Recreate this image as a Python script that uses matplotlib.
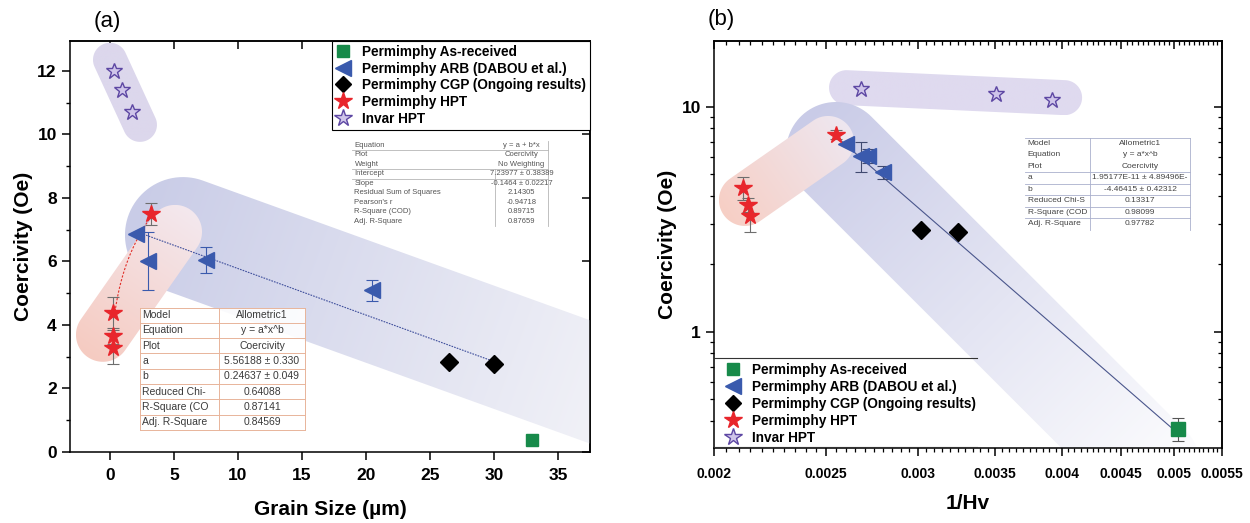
import numpy as np
import matplotlib
matplotlib.use("Agg")
import matplotlib.pyplot as plt
from matplotlib.path import Path
from matplotlib.lines import Line2D
from matplotlib.patches import Rectangle
from matplotlib.colors import to_rgba
from matplotlib.transforms import IdentityTransform
from matplotlib.ticker import (FixedLocator, MultipleLocator, NullFormatter,
                               FuncFormatter, LogLocator)

plt.rcParams['font.family'] = ['Liberation Sans', 'DejaVu Sans']

# ---------------- data ----------------
# coercivity (Oe) per sample group
asrec_hc = [0.37]
arb_hc = [6.85, 6.02, 6.05, 5.10]
arb_err = [0.0, 0.92, 0.42, 0.33]
cgp_hc = [2.82, 2.77]
hpt_hc = [4.37, 3.66, 3.26, 7.50]
hpt_err = [0.52, 0.25, 0.50, 0.35]
invar_hc = [12.0, 11.4, 10.7]

# grain size (um)
asrec_d = [33.0]
arb_d = [2.0, 3.0, 7.5, 20.5]
cgp_d = [26.5, 30.0]
hpt_d = [0.2, 0.2, 0.2, 3.2]
invar_d = [0.3, 0.9, 1.75]

# inverse hardness 1/Hv
asrec_ihv = [0.00504]
asrec_err_b = [0.045]
arb_ihv = [0.00260, 0.00268, 0.00272, 0.00280]
cgp_ihv = [0.00302, 0.00325]
hpt_ihv = [0.00212, 0.00214, 0.00215, 0.00255]
invar_ihv = [0.00268, 0.00351, 0.00392]

# fitted models
lin_a, lin_b = 7.23977, -0.1464          # y = a + b*x
allo_a, allo_b = 5.56188, 0.24637        # y = a*x^b  (grain size)
allo2_a, allo2_b = 1.95177e-11, -4.46415  # y = a*x^b  (1/Hv)

legend_labels = ['Permimphy As-received', 'Permimphy ARB (DABOU et al.)',
                 'Permimphy CGP (Ongoing results)', 'Permimphy HPT', 'Invar HPT']

lin_table = [('Equation', 'y = a + b*x'), ('Plot', 'Coercivity'),
             ('Weight', 'No Weighting'), ('Intercept', '7.23977 ± 0.38389'),
             ('Slope', '-0.1464 ± 0.02217'), ('Residual Sum of Squares', '2.14305'),
             ("Pearson's r", '-0.94718'), ('R-Square (COD)', '0.89715'),
             ('Adj. R-Square', '0.87659')]
allo_table = [('Model', 'Allometric1'), ('Equation', 'y = a*x^b'),
              ('Plot', 'Coercivity'), ('a', '5.56188 ± 0.330'),
              ('b', '0.24637 ± 0.049'), ('Reduced Chi-', '0.64088'),
              ('R-Square (CO', '0.87141'), ('Adj. R-Square', '0.84569')]
allo2_table = [('Model', 'Allometric1'), ('Equation', 'y = a*x^b'),
               ('Plot', 'Coercivity'), ('a', '1.95177E-11 ± 4.89496E-'),
               ('b', '-4.46415 ± 0.42312'), ('Reduced Chi-S', '0.13317'),
               ('R-Square (COD', '0.98099'), ('Adj. R-Square', '0.97782')]

# ---------------- styles ----------------
C_GREEN = '#178a4a'
C_BLUE = '#3a5aad'
C_RED = '#e8262c'
C_PURP_E = '#5d47a3'
C_PURP_F = '#cfc5ea'

W, H = 1250, 523
fig = plt.figure(figsize=(W / 100, H / 100), dpi=100)


def fx(px):
    return px / W


def fy(py):
    return 1 - py / H


axA = fig.add_axes([fx(70), fy(452), fx(590) - fx(70), fy(40.7) - fy(452)])
axB = fig.add_axes([fx(714), fy(448), fx(1222) - fx(714), fy(40.7) - fy(448)])

axA.set_xlim(-3.125, 37.5)
axA.set_ylim(0, 12.95)
axB.set_xscale('log')
axB.set_yscale('log')
axB.set_xlim(0.002, 0.0055)
axB.set_ylim(0.304, 19.65)
for ax in (axA, axB):
    ax.set_autoscale_on(False)


def band(ax, p0, p1, r, c_start, c_end, z=0.3):
    """Rounded translucent guide band between two data points, radius in pixels."""
    P0 = ax.transData.transform(p0)
    P1 = ax.transData.transform(p1)
    d = P1 - P0
    L = np.hypot(*d)
    u = d / L
    ang = np.arctan2(u[1], u[0])
    a1 = np.linspace(ang - np.pi / 2, ang + np.pi / 2, 48)
    a0 = a1 + np.pi
    verts = np.vstack([P1 + r * np.column_stack([np.cos(a1), np.sin(a1)]),
                       P0 + r * np.column_stack([np.cos(a0), np.sin(a0)])])
    verts = np.vstack([verts, verts[:1]])
    path = Path(verts, closed=True)
    bb = ax.bbox
    x0 = max(verts[:, 0].min(), bb.x0)
    x1 = min(verts[:, 0].max(), bb.x1)
    y0 = max(verts[:, 1].min(), bb.y0)
    y1 = min(verts[:, 1].max(), bb.y1)
    nx = max(int(x1 - x0), 2)
    ny = max(int(y1 - y0), 2)
    X, Y = np.meshgrid(np.linspace(x0, x1, nx), np.linspace(y0, y1, ny))
    t = ((X - P0[0]) * u[0] + (Y - P0[1]) * u[1] + r) / (L + 2 * r)
    t = np.clip(t, 0, 1)[..., None]
    c0 = np.array(to_rgba(c_start))
    c1 = np.array(to_rgba(c_end))
    img = c0 * (1 - t) + c1 * t
    im = ax.imshow(img, extent=(x0, x1, y0, y1), origin='lower',
                   transform=IdentityTransform(), interpolation='bilinear',
                   aspect='auto', zorder=z)
    im.set_clip_path(path, IdentityTransform())


# ---------------- panel (a) ----------------
band(axA, (0.0, 12.35), (2.34, 10.3), 17, '#dcd7ec', '#dcd7ec')
band(axA, (5.7, 6.83), (41.4, 1.64), 58, '#c9cce7', '#f8f8fa')
band(axA, (-0.55, 3.69), (5.08, 6.93), 27, '#f6cbc1', '#f3e8ee', z=0.35)

xs = np.linspace(min(arb_d), max(cgp_d), 100)
axA.plot(xs, lin_a + lin_b * xs, color='#3f4f9c', lw=0.8, ls=(0, (1.5, 1.0)), zorder=2)
xr = np.linspace(0.35, max(hpt_d), 100)
axA.plot(xr, allo_a * xr ** allo_b, color='#e0302a', lw=0.8, ls=(0, (2.0, 1.5)), zorder=2)

axA.errorbar(hpt_d, hpt_hc, yerr=hpt_err, fmt='none', ecolor='#6e6e6e',
             elinewidth=0.8, capsize=4, capthick=0.8, zorder=2.5)
axA.errorbar(arb_d, arb_hc, yerr=arb_err, fmt='none', ecolor=C_BLUE,
             elinewidth=0.8, capsize=4, capthick=0.8, zorder=2.5)

axA.plot(asrec_d, asrec_hc, 's', color=C_GREEN, ms=8, zorder=3)
axA.plot(arb_d, arb_hc, '<', color=C_BLUE, ms=12, zorder=3)
axA.plot(cgp_d, cgp_hc, 'D', color='black', ms=9, zorder=3)
axA.plot(hpt_d, hpt_hc, '*', color=C_RED, ms=13, zorder=3)
axA.plot(invar_d, invar_hc, '*', mfc=C_PURP_F, mec=C_PURP_E, mew=1.0, ms=12, zorder=3)

axA.set_xticks(np.arange(0, 36, 5))
axA.set_yticks(np.arange(0, 13, 2))
axA.yaxis.set_minor_locator(MultipleLocator(1))
axA.tick_params(axis='both', which='major', direction='out', length=6,
                width=1.1, labelsize=12.5)
axA.tick_params(axis='x', which='major', pad=5.5)
axA.tick_params(axis='y', which='minor', direction='out', length=3, width=1.0)
for lab in axA.get_xticklabels() + axA.get_yticklabels():
    lab.set_fontweight('bold')
secA_x = axA.secondary_xaxis('top')
secA_x.set_xticks(np.arange(0, 36, 5))
secA_x.tick_params(direction='in', length=6, width=1.1, labeltop=False)
secA_y = axA.secondary_yaxis('right')
secA_y.set_yticks(np.arange(0, 13, 2))
secA_y.tick_params(direction='in', length=6, width=1.1, labelright=False)

axA.set_xlabel('Grain Size (µm)', fontsize=15, fontweight='bold', labelpad=12)
axA.set_ylabel('Coercivity (Oe)', fontsize=15, fontweight='bold', labelpad=3)
for sp in list(axA.spines.values()) + list(secA_x.spines.values()) + list(secA_y.spines.values()):
    sp.set_linewidth(1.1)

# ---------------- panel (b) ----------------
band(axB, (0.002604, 12.15), (0.004020, 10.97), 17.5, '#dfdaef', '#dfdaef')
band(axB, (0.00255, 6.29), (0.004767, 0.253), 50, '#c9cbe7', '#ffffff')
band(axB, (0.002127, 3.85), (0.00251, 6.97), 26, '#f7cfc5', '#eee7f0', z=0.35)

xb = np.linspace(max(hpt_ihv), max(asrec_ihv), 100)
axB.plot(xb, allo2_a * xb ** allo2_b, color='#4a568c', lw=0.8, zorder=2)

axB.errorbar(hpt_ihv, hpt_hc, yerr=hpt_err, fmt='none', ecolor='#6e6e6e',
             elinewidth=0.8, capsize=4, capthick=0.8, zorder=2.5)
axB.errorbar(arb_ihv, arb_hc, yerr=arb_err, fmt='none', ecolor='#404a70',
             elinewidth=0.8, capsize=4, capthick=0.8, zorder=2.5)
axB.errorbar(asrec_ihv, asrec_hc, yerr=asrec_err_b, fmt='none', ecolor='#555555',
             elinewidth=0.8, capsize=4, capthick=0.8, zorder=2.5)

axB.plot(asrec_ihv, asrec_hc, 's', color=C_GREEN, ms=10, zorder=3)
axB.plot(arb_ihv, arb_hc, '<', color=C_BLUE, ms=12, zorder=3)
axB.plot(cgp_ihv, cgp_hc, 'D', color='black', ms=9, zorder=3)
axB.plot(hpt_ihv, hpt_hc, '*', color=C_RED, ms=13, zorder=3)
axB.plot(invar_ihv, invar_hc, '*', mfc=C_PURP_F, mec=C_PURP_E, mew=1.0, ms=12, zorder=3)

xmaj = [0.002, 0.0025, 0.003, 0.0035, 0.004, 0.0045, 0.005, 0.0055]
gfmt = FuncFormatter(lambda v, p: '%g' % v)
axB.xaxis.set_major_locator(FixedLocator(xmaj))
axB.xaxis.set_major_formatter(gfmt)
axB.xaxis.set_minor_locator(MultipleLocator(0.00005))
axB.xaxis.set_minor_formatter(NullFormatter())
axB.yaxis.set_major_locator(LogLocator(base=10))
axB.yaxis.set_major_formatter(gfmt)
axB.yaxis.set_minor_locator(LogLocator(base=10, subs=np.arange(2, 10)))
axB.yaxis.set_minor_formatter(NullFormatter())
axB.tick_params(axis='both', which='major', direction='out', length=6, width=1.1)
axB.tick_params(axis='both', which='minor', direction='out', length=3, width=0.9)
axB.tick_params(axis='x', labelsize=10, pad=8)
axB.tick_params(axis='y', labelsize=12.5)
for lab in axB.get_xticklabels() + axB.get_yticklabels():
    lab.set_fontweight('bold')

secB_x = axB.secondary_xaxis('top')
secB_x.xaxis.set_major_locator(FixedLocator(xmaj))
secB_x.xaxis.set_minor_locator(MultipleLocator(0.00005))
secB_x.xaxis.set_major_formatter(NullFormatter())
secB_x.xaxis.set_minor_formatter(NullFormatter())
secB_x.tick_params(which='major', direction='in', length=6, width=1.1)
secB_x.tick_params(which='minor', direction='in', length=3, width=0.9)
secB_y = axB.secondary_yaxis('right')
secB_y.yaxis.set_major_locator(LogLocator(base=10))
secB_y.yaxis.set_minor_locator(LogLocator(base=10, subs=np.arange(2, 10)))
secB_y.yaxis.set_major_formatter(NullFormatter())
secB_y.yaxis.set_minor_formatter(NullFormatter())
secB_y.tick_params(which='major', direction='in', length=6, width=1.1)
secB_y.tick_params(which='minor', direction='in', length=3, width=0.9)

axB.set_xlabel('1/Hv', fontsize=15, fontweight='bold', labelpad=9)
axB.set_ylabel('Coercivity (Oe)', fontsize=15, fontweight='bold', labelpad=3)
for sp in list(axB.spines.values()) + list(secB_x.spines.values()) + list(secB_y.spines.values()):
    sp.set_linewidth(1.1)

# ---------------- legends ----------------
def handles():
    return [Line2D([], [], ls='none', marker='s', color=C_GREEN, ms=9),
            Line2D([], [], ls='none', marker='<', color=C_BLUE, ms=12),
            Line2D([], [], ls='none', marker='D', color='black', ms=8.5),
            Line2D([], [], ls='none', marker='*', color=C_RED, ms=13),
            Line2D([], [], ls='none', marker='*', mfc=C_PURP_F, mec=C_PURP_E, mew=1.0, ms=13)]


legA = axA.legend(handles(), legend_labels, loc='upper right', borderaxespad=0,
                  frameon=True, fancybox=False, edgecolor='black', framealpha=1,
                  prop=dict(weight='bold', size=9.8), labelspacing=0.2,
                  handlelength=1.0, handletextpad=0.9, borderpad=0.3)
legA.get_frame().set_linewidth(0.8)
legA.set_zorder(5)

legB = axB.legend(handles(), legend_labels, loc='upper left',
                  bbox_to_anchor=(fx(722), fy(359)), bbox_transform=fig.transFigure,
                  borderaxespad=0, frameon=False, prop=dict(weight='bold', size=9.8),
                  labelspacing=0.22, handlelength=1.0, handletextpad=0.9, borderpad=0.3)
legB.set_zorder(5)
for yline in (358, 446.5):
    fig.add_artist(Line2D([fx(714), fx(977)], [fy(yline), fy(yline)],
                          color='#333333', lw=0.8))


# ---------------- fit result tables ----------------
def draw_table(rows, left, top, divider, right, row_h, size, tcolor, lcolor,
               hlines, vlines, lw=0.6):
    n = len(rows)
    fig.add_artist(Rectangle((fx(left), fy(top + n * row_h)), fx(right) - fx(left),
                             fy(top) - fy(top + n * row_h), transform=fig.transFigure,
                             facecolor='white', edgecolor='none', alpha=0.9, zorder=1))
    for i, (k, v) in enumerate(rows):
        yc = top + (i + 0.5) * row_h
        fig.text(fx(left + 2.5), fy(yc), k, fontsize=size, color=tcolor,
                 ha='left', va='center')
        fig.text(fx((divider + right) / 2), fy(yc), v, fontsize=size, color=tcolor,
                 ha='center', va='center')
    for i in hlines:
        y = top + i * row_h
        fig.add_artist(Line2D([fx(left), fx(right)], [fy(y), fy(y)], color=lcolor, lw=lw))
    for x, i0, i1 in vlines:
        fig.add_artist(Line2D([fx(x), fx(x)], [fy(top + i0 * row_h), fy(top + i1 * row_h)],
                              color=lcolor, lw=lw))


draw_table(lin_table, 352, 140.5, 495, 548, 9.5, 5.5, '#555555', '#b5b5b5',
           hlines=[1, 3, 4], vlines=[(495, 3, 9), (548, 0, 9)])
draw_table(allo_table, 140, 307.5, 219, 305, 15.3, 7.5, '#3a3a3a', '#e8b49a',
           hlines=range(0, 9), vlines=[(140, 0, 8), (219, 0, 8), (305, 0, 8)], lw=0.7)
draw_table(allo2_table, 1025, 137.7, 1090, 1190, 11.5, 6, '#444444', '#a9afcc',
           hlines=[0, 3, 4, 5, 6, 7], vlines=[(1090, 0, 8), (1190, 0, 8)])

# ---------------- panel tags ----------------
fig.text(fx(107), fy(22), '(a)', fontsize=16, ha='center', va='center')
fig.text(fx(721), fy(19), '(b)', fontsize=16, ha='center', va='center')

fig.savefig('out.png', dpi=100)
